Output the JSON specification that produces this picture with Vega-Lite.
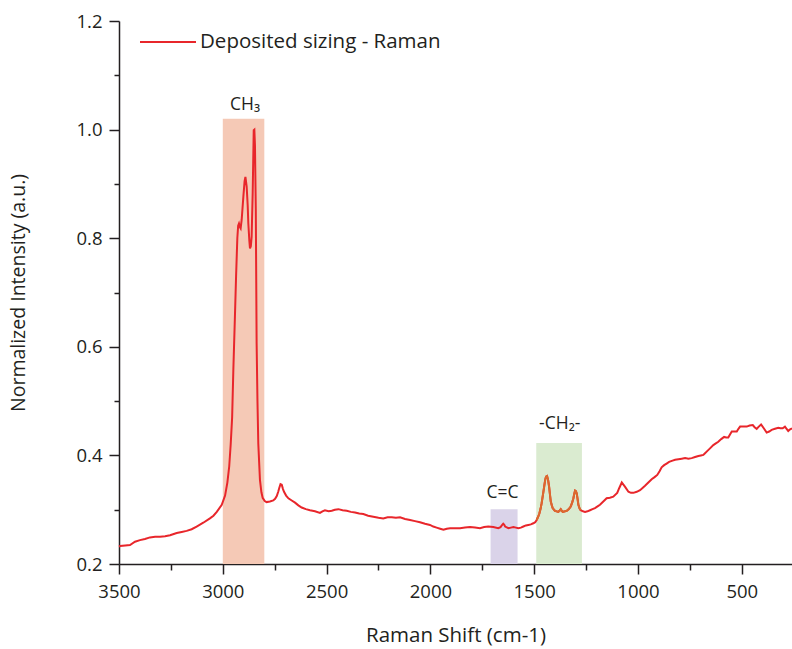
{
  "$schema": "https://vega.github.io/schema/vega-lite/v6.json",
  "width": 673,
  "height": 543,
  "autosize": "none",
  "padding": {"left": 119, "top": 21, "right": 0, "bottom": 85},
  "background": "white",
  "config": {
    "view": {"stroke": null},
    "font": "Open Sans",
    "axis": {
      "grid": false,
      "domainColor": "#231F20",
      "domainWidth": 1.5,
      "tickColor": "#231F20",
      "tickWidth": 1.5,
      "labelColor": "#231F20",
      "titleColor": "#231F20",
      "labelFont": "Open Sans",
      "titleFont": "Open Sans",
      "labelFontSize": 18.5,
      "titleFontSize": 19.5,
      "titleFontWeight": "normal",
      "labelFlush": false,
      "labelOverlap": false
    }
  },
  "datasets": {
    "spectrum": [
      {"w":3500,"v":0.232},{"w":3495,"v":0.233},{"w":3470,"v":0.234},{"w":3447,"v":0.235},{"w":3423,"v":0.241},{"w":3399,"v":0.244},{"w":3375,"v":0.246},{"w":3351,"v":0.249},{"w":3326,"v":0.25},{"w":3302,"v":0.25},{"w":3278,"v":0.251},{"w":3254,"v":0.253},{"w":3222,"v":0.257},{"w":3198,"v":0.259},{"w":3174,"v":0.261},{"w":3150,"v":0.264},{"w":3126,"v":0.269},{"w":3094,"v":0.276},{"w":3062,"v":0.284},{"w":3045,"v":0.289},{"w":3029,"v":0.296},{"w":3005,"v":0.309},{"w":2989,"v":0.326},{"w":2978,"v":0.35},{"w":2969,"v":0.38},{"w":2962,"v":0.42},{"w":2955,"v":0.47},{"w":2949,"v":0.56},{"w":2942,"v":0.65},{"w":2936,"v":0.73},{"w":2930,"v":0.8},{"w":2926,"v":0.823},{"w":2922,"v":0.827},{"w":2917,"v":0.82},{"w":2914,"v":0.818},{"w":2909,"v":0.834},{"w":2901,"v":0.876},{"w":2895,"v":0.905},{"w":2891,"v":0.913},{"w":2885,"v":0.895},{"w":2880,"v":0.86},{"w":2877,"v":0.827},{"w":2872,"v":0.795},{"w":2869,"v":0.781},{"w":2865,"v":0.785},{"w":2861,"v":0.803},{"w":2856,"v":0.883},{"w":2851,"v":0.999},{"w":2848,"v":1.0},{"w":2845,"v":0.97},{"w":2841,"v":0.852},{"w":2837,"v":0.606},{"w":2833,"v":0.5},{"w":2829,"v":0.422},{"w":2821,"v":0.355},{"w":2814,"v":0.332},{"w":2808,"v":0.322},{"w":2798,"v":0.316},{"w":2789,"v":0.314},{"w":2773,"v":0.315},{"w":2757,"v":0.317},{"w":2748,"v":0.32},{"w":2740,"v":0.325},{"w":2733,"v":0.333},{"w":2728,"v":0.34},{"w":2722,"v":0.347},{"w":2716,"v":0.346},{"w":2710,"v":0.338},{"w":2705,"v":0.333},{"w":2695,"v":0.326},{"w":2684,"v":0.321},{"w":2668,"v":0.317},{"w":2652,"v":0.313},{"w":2636,"v":0.308},{"w":2620,"v":0.304},{"w":2600,"v":0.301},{"w":2580,"v":0.299},{"w":2556,"v":0.297},{"w":2532,"v":0.294},{"w":2520,"v":0.297},{"w":2508,"v":0.299},{"w":2490,"v":0.297},{"w":2475,"v":0.298},{"w":2460,"v":0.3},{"w":2443,"v":0.301},{"w":2423,"v":0.299},{"w":2403,"v":0.298},{"w":2383,"v":0.296},{"w":2363,"v":0.295},{"w":2343,"v":0.293},{"w":2323,"v":0.292},{"w":2300,"v":0.289},{"w":2275,"v":0.287},{"w":2250,"v":0.285},{"w":2227,"v":0.284},{"w":2206,"v":0.286},{"w":2186,"v":0.286},{"w":2166,"v":0.285},{"w":2146,"v":0.286},{"w":2122,"v":0.283},{"w":2098,"v":0.281},{"w":2074,"v":0.279},{"w":2050,"v":0.277},{"w":2026,"v":0.274},{"w":2002,"v":0.272},{"w":1986,"v":0.269},{"w":1970,"v":0.267},{"w":1953,"v":0.265},{"w":1937,"v":0.263},{"w":1921,"v":0.265},{"w":1905,"v":0.266},{"w":1881,"v":0.266},{"w":1857,"v":0.266},{"w":1833,"v":0.267},{"w":1809,"v":0.268},{"w":1785,"v":0.267},{"w":1761,"v":0.266},{"w":1741,"v":0.268},{"w":1721,"v":0.269},{"w":1697,"v":0.268},{"w":1673,"v":0.266},{"w":1662,"v":0.268},{"w":1656,"v":0.271},{"w":1649,"v":0.274},{"w":1644,"v":0.272},{"w":1640,"v":0.269},{"w":1624,"v":0.266},{"w":1612,"v":0.267},{"w":1600,"v":0.268},{"w":1588,"v":0.267},{"w":1576,"v":0.266},{"w":1564,"v":0.267},{"w":1552,"v":0.269},{"w":1540,"v":0.271},{"w":1528,"v":0.272},{"w":1516,"v":0.273},{"w":1504,"v":0.275},{"w":1495,"v":0.277},{"w":1488,"v":0.281},{"w":1481,"v":0.287},{"w":1475,"v":0.293},{"w":1469,"v":0.302},{"w":1464,"v":0.312},{"w":1458,"v":0.327},{"w":1452,"v":0.342},{"w":1447,"v":0.355},{"w":1443,"v":0.361},{"w":1438,"v":0.362},{"w":1433,"v":0.355},{"w":1428,"v":0.342},{"w":1424,"v":0.328},{"w":1420,"v":0.315},{"w":1415,"v":0.308},{"w":1411,"v":0.303},{"w":1405,"v":0.3},{"w":1400,"v":0.298},{"w":1392,"v":0.297},{"w":1384,"v":0.296},{"w":1378,"v":0.298},{"w":1372,"v":0.301},{"w":1367,"v":0.298},{"w":1362,"v":0.296},{"w":1352,"v":0.297},{"w":1343,"v":0.298},{"w":1333,"v":0.301},{"w":1324,"v":0.306},{"w":1317,"v":0.313},{"w":1311,"v":0.321},{"w":1307,"v":0.329},{"w":1303,"v":0.335},{"w":1299,"v":0.334},{"w":1295,"v":0.33},{"w":1291,"v":0.32},{"w":1287,"v":0.309},{"w":1281,"v":0.302},{"w":1276,"v":0.299},{"w":1265,"v":0.297},{"w":1255,"v":0.296},{"w":1243,"v":0.297},{"w":1231,"v":0.299},{"w":1219,"v":0.301},{"w":1207,"v":0.303},{"w":1191,"v":0.307},{"w":1183,"v":0.309},{"w":1167,"v":0.315},{"w":1151,"v":0.321},{"w":1135,"v":0.322},{"w":1119,"v":0.324},{"w":1100,"v":0.331},{"w":1090,"v":0.34},{"w":1078,"v":0.35},{"w":1070,"v":0.346},{"w":1062,"v":0.342},{"w":1046,"v":0.333},{"w":1034,"v":0.331},{"w":1022,"v":0.331},{"w":1006,"v":0.333},{"w":990,"v":0.336},{"w":978,"v":0.34},{"w":966,"v":0.344},{"w":950,"v":0.35},{"w":934,"v":0.356},{"w":920,"v":0.36},{"w":907,"v":0.364},{"w":896,"v":0.371},{"w":886,"v":0.378},{"w":874,"v":0.382},{"w":862,"v":0.385},{"w":850,"v":0.388},{"w":837,"v":0.39},{"w":821,"v":0.392},{"w":805,"v":0.393},{"w":789,"v":0.394},{"w":773,"v":0.395},{"w":757,"v":0.394},{"w":741,"v":0.395},{"w":725,"v":0.397},{"w":709,"v":0.399},{"w":697,"v":0.4},{"w":685,"v":0.401},{"w":677,"v":0.404},{"w":669,"v":0.407},{"w":653,"v":0.413},{"w":637,"v":0.419},{"w":625,"v":0.422},{"w":613,"v":0.425},{"w":599,"v":0.43},{"w":585,"v":0.434},{"w":575,"v":0.433},{"w":565,"v":0.433},{"w":556,"v":0.439},{"w":548,"v":0.444},{"w":536,"v":0.444},{"w":524,"v":0.444},{"w":516,"v":0.449},{"w":508,"v":0.453},{"w":492,"v":0.453},{"w":476,"v":0.453},{"w":462,"v":0.455},{"w":447,"v":0.456},{"w":438,"v":0.452},{"w":428,"v":0.449},{"w":418,"v":0.453},{"w":407,"v":0.457},{"w":394,"v":0.45},{"w":380,"v":0.442},{"w":368,"v":0.444},{"w":356,"v":0.447},{"w":340,"v":0.449},{"w":324,"v":0.451},{"w":314,"v":0.45},{"w":303,"v":0.45},{"w":292,"v":0.453},{"w":284,"v":0.449},{"w":276,"v":0.445},{"w":267,"v":0.448},{"w":258,"v":0.45}
    ],
    "bands": [
      {"band": "CH3", "w1": 3000, "w2": 2800, "v1": 0.2, "v2": 1.02},
      {"band": "C=C", "w1": 1710, "w2": 1580, "v1": 0.2, "v2": 0.301},
      {"band": "CH2", "w1": 1490, "w2": 1270, "v1": 0.2, "v2": 0.423}
    ],
    "labels": [
      {"w": 2893, "v": 1.037, "t": "CH₃"},
      {"w": 1652, "v": 0.321, "t": "C=C"},
      {"w": 1377, "v": 0.449, "t": "-CH₂-"}
    ]
  },
  "layer": [
    {
      "data": {"name": "bands"},
      "mark": {"type": "rect"},
      "encoding": {
        "x": {"field": "w1", "type": "quantitative"},
        "x2": {"field": "w2"},
        "y": {"field": "v1", "type": "quantitative"},
        "y2": {"field": "v2"},
        "fill": {"field": "band", "type": "nominal", "legend": null,
          "scale": {"domain": ["CH3", "C=C", "CH2"], "range": ["#F5C9B6", "#DAD3E9", "#DAEBD0"]}}
      }
    },
    {
      "data": {"name": "spectrum"},
      "mark": {"type": "line", "strokeWidth": 2, "interpolate": "linear"},
      "encoding": {
        "x": {"field": "w", "type": "quantitative",
          "scale": {"domain": [258, 3500], "reverse": true, "nice": false, "zero": false},
          "axis": {
            "title": "Raman Shift (cm-1)",
            "titleFontSize": 20.5,
            "values": [3500, 3250, 3000, 2750, 2500, 2250, 2000, 1750, 1500, 1250, 1000, 750, 500],
            "format": "d",
            "labelExpr": "datum.value % 500 === 0 ? datum.label : ''",
            "tickSize": {"condition": {"test": "datum.value % 500 === 0", "value": 10}, "value": 6},
            "labelPadding": 8,
            "titlePadding": 25
          }
        },
        "y": {"field": "v", "type": "quantitative",
          "scale": {"domain": [0.2, 1.2], "nice": false, "zero": false},
          "axis": {
            "title": "Normalized Intensity (a.u.)",
            "values": [0.2, 0.3, 0.4, 0.5, 0.6, 0.7, 0.8, 0.9, 1.0, 1.1, 1.2],
            "format": ".1f",
            "labelExpr": "round(datum.value * 10) % 2 === 0 ? datum.label : ''",
            "tickSize": {"condition": {"test": "round(datum.value * 10) % 2 === 0", "value": 10}, "value": 5},
            "labelPadding": 7,
            "titlePadding": 47
          }
        },
        "stroke": {"datum": "Deposited sizing - Raman", "type": "nominal",
          "scale": {"range": ["#E8262B"]},
          "legend": {
            "orient": "none", "legendX": 20, "legendY": -8, "title": null,
            "symbolType": "stroke", "symbolSize": 3136, "symbolStrokeWidth": 2,
            "labelFontSize": 20.5, "labelFont": "Open Sans", "labelColor": "#231F20", "labelOffset": 3, "labelLimit": 0
          }
        }
      }
    },
    {
      "data": {"name": "spectrum"},
      "transform": [{"filter": "datum.w <= 1490 && datum.w >= 1270"}],
      "mark": {"type": "line", "strokeWidth": 2, "color": "#DB6A2E"},
      "encoding": {
        "x": {"field": "w", "type": "quantitative"},
        "y": {"field": "v", "type": "quantitative"}
      }
    },
    {
      "data": {"name": "labels"},
      "mark": {"type": "text", "fontSize": 17.5, "font": "Open Sans", "align": "center", "baseline": "alphabetic", "color": "#231F20"},
      "encoding": {
        "x": {"field": "w", "type": "quantitative"},
        "y": {"field": "v", "type": "quantitative"},
        "text": {"field": "t"}
      }
    }
  ]
}
